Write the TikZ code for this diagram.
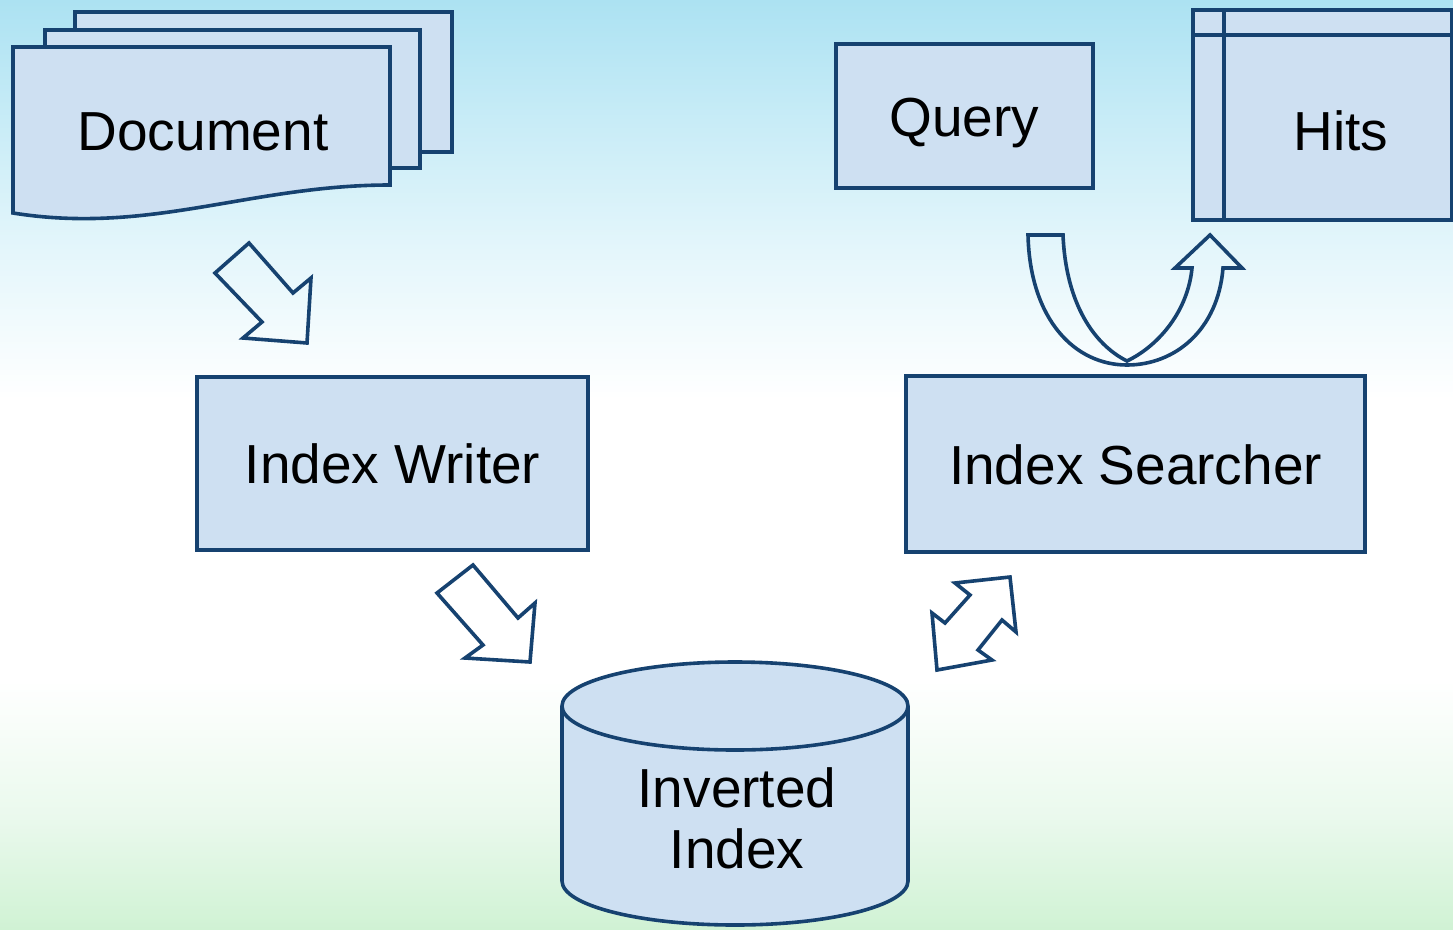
\documentclass[tikz,border=0pt]{standalone}
\usepackage{fontspec}
\setmainfont{Liberation Sans}
\definecolor{boxfill}{RGB}{206,224,242}
\definecolor{edge}{RGB}{22,66,112}
\definecolor{bgC}{RGB}{172,226,242}
\definecolor{bgCb}{RGB}{200,236,247}
\definecolor{bgCc}{RGB}{228,246,251}
\definecolor{bgGb}{RGB}{234,249,237}
\definecolor{bgG}{RGB}{208,242,212}
% sky-to-grass wash behind the whole diagram
\pgfdeclareverticalshading{bgwash}{100bp}{%
  color(0bp)=(bgG); color(25bp)=(bgG); color(31bp)=(bgGb);
  color(38.4bp)=(white); color(53.5bp)=(white); color(61.5bp)=(bgCc);
  color(68.5bp)=(bgCb); color(75bp)=(bgC); color(100bp)=(bgC)}
\begin{document}
\begin{tikzpicture}[x=1pt,y=-1pt,
    outline/.style={draw=edge,line width=3.6pt,line join=miter},
    sheet/.style={outline,fill=boxfill},
    procbox/.style={sheet,rectangle,inner sep=0pt,
      text height=40pt,text depth=0pt},
    blockarrow/.style={outline},
    label/.style={inner sep=0pt,anchor=base,font=\fontsize{55}{62}\selectfont}]
  \useasboundingbox (0,0) rectangle (1453,929);
  \shade[shading=bgwash] (0,0) rectangle (1453,929);

  % stacked documents
  \filldraw[sheet] (75,12) rectangle (452,152);
  \filldraw[sheet] (45,30) rectangle (420,168);
  \filldraw[sheet] (13,47) -- (390,47) -- (390,185)
     .. controls (250,185) and (150,235) .. (13,213) -- cycle;
  \node[label] (doc) at (203,150) {Document};

  % query and hits
  \node[procbox,minimum width=257pt,minimum height=144pt,
        font=\fontsize{55}{62}\selectfont] (query) at (964.5,116) {Query};
  \node[sheet,rectangle,inner sep=0pt,minimum width=259pt,
        minimum height=210pt] (hits) at (1322.5,115) {};
  \draw[outline] (hits.north west) ++(33,0) coordinate (hv) -- (hv |- hits.south);
  \draw[outline] (hits.north west) ++(0,27) coordinate (hh) -- (hh -| hits.east);
  \node[label] (hitstext) at (1341,150) {Hits};

  % index writer and searcher
  \node[procbox,minimum width=391pt,minimum height=173pt,
        font=\fontsize{55}{62}\selectfont] (writer) at (392.5,463.5) {Index Writer};
  \node[procbox,minimum width=459pt,minimum height=176pt,
        font=\fontsize{55}{62}\selectfont] (searcher) at (1135.5,464) {Index Searcher};

  % inverted index store
  \filldraw[sheet] (562,706) -- (562,881)
     arc[start angle=180,end angle=360,x radius=173pt,y radius=44pt]
     -- (908,706)
     arc[start angle=0,end angle=180,x radius=173pt,y radius=44pt] -- cycle;
  \draw[outline] (562,706)
     arc[start angle=180,end angle=360,x radius=173pt,y radius=44pt];
  \node[label] (inv1) at (737,807) {Inverted};
  \node[label] (inv2) at (737,868) {Index};

  % document -> writer
  \draw[blockarrow] (249,243) -- (293,293) -- (311,278) -- (307,343)
     -- (243,338) -- (262,322) -- (215,273) -- cycle;
  % writer -> inverted index
  \draw[blockarrow] (473,565) -- (518,618) -- (535,603) -- (530,662)
     -- (465,658) -- (483,645) -- (437,593) -- cycle;
  % inverted index <-> searcher
  \draw[blockarrow] (1010,577) -- (955,583) -- (970,595) -- (945,623)
     -- (932,613) -- (937,670) -- (992,660) -- (978,650) -- (1002,620)
     -- (1016,632) -- cycle;
  % query -> searcher -> hits
  \draw[blockarrow] (1028,235) -- (1063,235)
     .. controls (1066,305) and (1095,345) .. (1127,361)
     .. controls (1160,345) and (1188,310) .. (1192,268)
     -- (1175,268) -- (1210,235) -- (1242,268) -- (1223,268)
     .. controls (1218,330) and (1175,365) .. (1127,365)
     .. controls (1075,365) and (1030,320) .. (1028,235) -- cycle;
\end{tikzpicture}
\end{document}
